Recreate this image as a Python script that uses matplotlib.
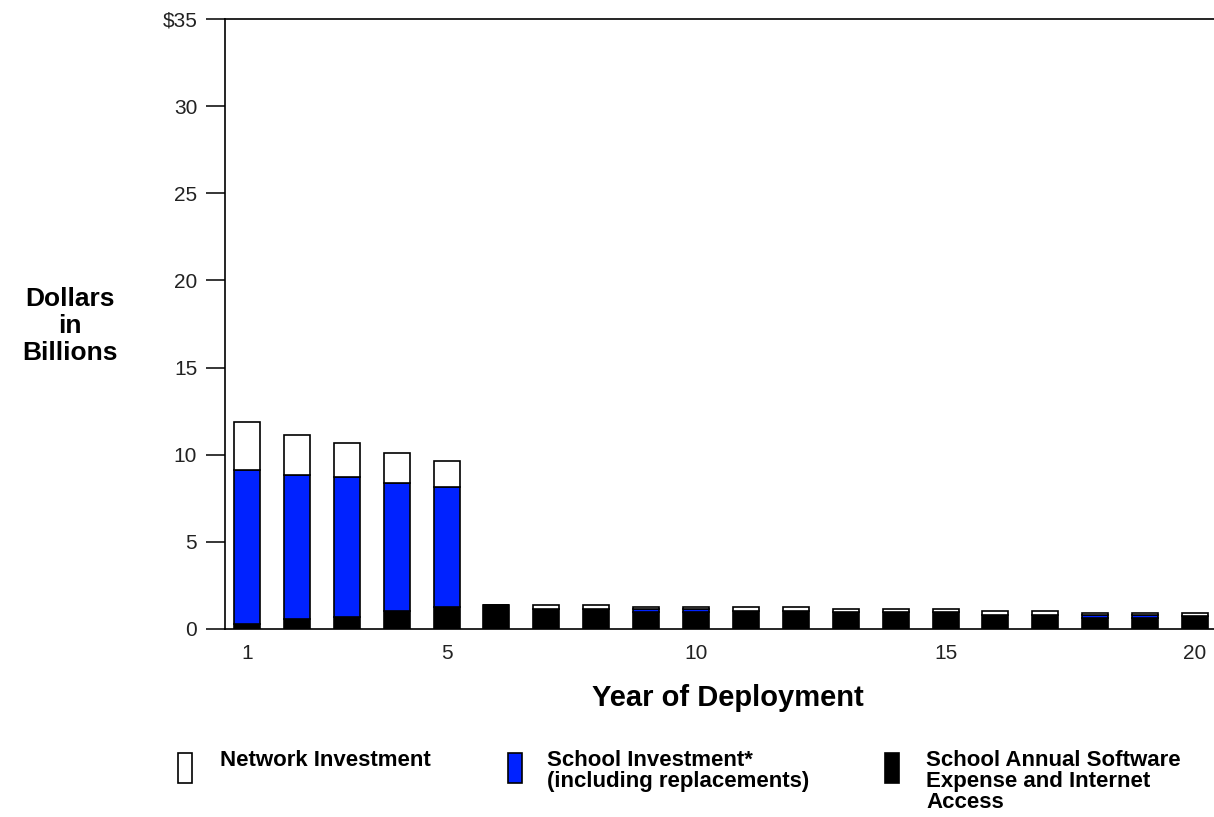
import numpy as np
from matplotlib import pyplot as plt
from matplotlib.patches import Rectangle

plt.rcParams['font.family'] = ['Liberation Sans', 'DejaVu Sans']

years = np.arange(1, 21)
# School annual software expense and Internet access (black)
software = [0.3, 0.6, 0.7, 1.05, 1.28, 1.38, 1.16, 1.16, 1.0, 1.0,
            1.06, 1.06, 0.95, 0.97, 0.95, 0.83, 0.83, 0.63, 0.63, 0.72]
# School investment incl. replacements (blue)
school = [8.85, 8.25, 8.02, 7.33, 6.84, 0, 0, 0, 0.17, 0.17,
          0, 0, 0, 0, 0, 0, 0, 0.17, 0.17, 0]
# Network investment (white)
network = [2.75, 2.3, 1.93, 1.72, 1.53, 0, 0.22, 0.22, 0.1, 0.1,
           0.2, 0.2, 0.2, 0.2, 0.2, 0.2, 0.2, 0.12, 0.12, 0.2]

yticks = [0, 5, 10, 15, 20, 25, 30, 35]
ytick_labels = ['0', '5', '10', '15', '20', '25', '30', '$35']
xticks = [1, 5, 10, 15, 20]

BLUE = '#0022FF'

fig = plt.figure(figsize=(12.14, 8.17), dpi=100)
ax = fig.add_axes([225/1214, 1 - 629/817, 1 - 225/1214, (629 - 19)/817])

w = 0.52
software = np.array(software)
school = np.array(school)
network = np.array(network)
ax.bar(years, software, w, color='black', edgecolor='black', lw=1.2)
ax.bar(years, school, w, bottom=software, color=BLUE, edgecolor='black', lw=1.2)
ax.bar(years, network, w, bottom=software + school, color='white',
       edgecolor='black', lw=1.2)

ax.set_xlim(0.56, 20.38)
ax.set_ylim(0, 35)
ax.set_yticks(yticks)
ax.set_yticklabels(ytick_labels)
ax.set_xticks(xticks)
ax.tick_params(axis='y', length=14, width=1.1, pad=6, labelsize=15)
ax.tick_params(axis='x', length=0, pad=11, labelsize=15)
for lab in ax.get_yticklabels() + ax.get_xticklabels():
    lab.set_color('#222222')
ax.spines['right'].set_visible(False)
for s in ['left', 'bottom', 'top']:
    ax.spines[s].set_linewidth(1.2)

fig.text(728/1214, 1 - 698/817, 'Year of Deployment', ha='center', va='center',
         fontsize=21, fontweight='bold')
fig.text(70/1214, 1 - 326/817, 'Dollars\nin\nBillions', ha='center', va='center',
         fontsize=19, fontweight='bold', linespacing=1.16)

# legend
legend_items = [
    (178, 'white', 220, 'Network Investment'),
    (508, BLUE, 547, 'School Investment*\n(including replacements)'),
    (885, 'black', 926, 'School Annual Software\nExpense and Internet\nAccess'),
]
for bx, col, tx, txt in legend_items:
    fig.patches.append(Rectangle((bx/1214, 1 - 783/817), 14/1214, 30/817,
                                 transform=fig.transFigure, facecolor=col,
                                 edgecolor='black', lw=1.2))
    fig.text(tx/1214, 1 - 750/817, txt, ha='left', va='top',
             fontsize=16, fontweight='bold', linespacing=1.0)

fig.savefig('out.png', dpi=100)
